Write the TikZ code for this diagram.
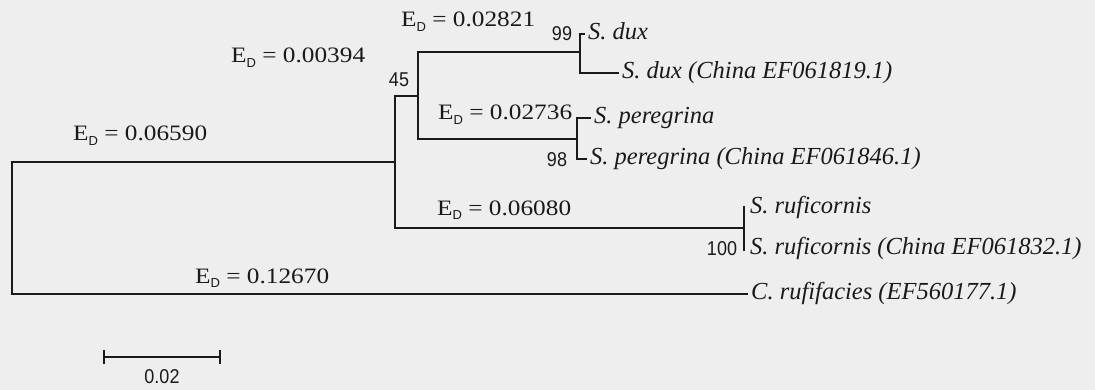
\documentclass[tikz,border=0pt]{standalone}
\usepackage{fontspec}
\setmainfont{Liberation Serif}
\newfontfamily\sansf{Liberation Sans}
\newfontfamily\edf[FakeStretch=1.15]{Liberation Serif}
\newfontfamily\bootf[FakeStretch=0.9]{Liberation Sans}
\definecolor{bg}{HTML}{EEEEEE}
\definecolor{ink}{HTML}{1A1A1A}
\newcommand\EDlab[1]{E\raisebox{-5pt}{\sansf\fontsize{13}{13}\selectfont D} = #1}
\tikzset{
  branch/.style={draw=ink, line width=2.3pt, line cap=rect},
  edlabel/.style={anchor=base west, inner sep=0pt, text=ink, font=\edf\fontsize{22}{22}\selectfont},
  taxon/.style={anchor=west, inner xsep=4pt, inner ysep=0pt, text=ink, font=\fontsize{24.5}{24.5}\selectfont\itshape, text height=16pt, text depth=5pt},
  boot/.style={inner sep=0pt, text=ink, font=\bootf\fontsize{20}{20}\selectfont},
}
\begin{document}
\begin{tikzpicture}[x=1pt, y=-1pt]
\fill[bg] (0,0) rectangle (1095,390);
\useasboundingbox (0,0) rectangle (1095,390);
% internal node coordinates
\coordinate (Rt) at (12,162);
\coordinate (Rb) at (12,294);
\coordinate (At) at (395,96);
\coordinate (Am) at (395,162);
\coordinate (Ab) at (395,228);
\coordinate (Bt) at (418,52);
\coordinate (Bm) at (418,96);
\coordinate (Bb) at (418,139);
\coordinate (Dt) at (580,34);
\coordinate (Dm) at (580,52);
\coordinate (Db) at (580,73);
\coordinate (Pt) at (577,118);
\coordinate (Pm) at (577,139);
\coordinate (Pb) at (577,159);
\coordinate (Ut) at (744,207);
\coordinate (Um) at (744,228);
\coordinate (Ub) at (744,250);
% tip labels
\node[taxon] (t1) at (584,34) {S. dux};
\node[taxon] (t2) at (618,73) {S. dux (China EF061819.1)};
\node[taxon] (t3) at (590,118) {S. peregrina};
\node[taxon] (t4) at (586,159) {S. peregrina (China EF061846.1)};
\node[taxon] (t5) at (746,208) {S. ruficornis};
\node[taxon] (t6) at (746,249) {S. ruficornis (China EF061832.1)};
\node[taxon] (t7) at (747,294) {C. rufifacies (EF560177.1)};
% branches
\draw[branch] (Rt) -- (Rb);
\draw[branch] (Rt) -- (Am);
\draw[branch] (Rb) -- (t7.west);
\draw[branch] (At) -- (Ab);
\draw[branch] (At) -- (Bm);
\draw[branch] (Ab) -- (Um);
\draw[branch] (Bt) -- (Bb);
\draw[branch] (Bt) -- (Dm);
\draw[branch] (Bb) -- (Pm);
\draw[branch] (Dt) -- (Db);
\draw[branch] (Dt) -- (t1.west);
\draw[branch] (Db) -- (t2.west);
\draw[branch] (Pt) -- (Pb);
\draw[branch] (Pt) -- (t3.west);
\draw[branch] (Pb) -- (t4.west);
\draw[branch] (Ut) -- (Ub);
% bootstrap values
\node[boot] (b45) at (399,80) {45};
\node[boot] (b99) at (562,34) {99};
\node[boot] (b98) at (557,160) {98};
\node[boot] (b100) at (722,249) {100};
% branch length labels
\node[edlabel] (e1) at (73,141) {\EDlab{0.06590}};
\node[edlabel] (e2) at (231,63) {\EDlab{0.00394}};
\node[edlabel] (e3) at (401,27) {\EDlab{0.02821}};
\node[edlabel] (e4) at (438,120) {\EDlab{0.02736}};
\node[edlabel] (e5) at (437,215) {\EDlab{0.06080}};
\node[edlabel] (e6) at (195,283) {\EDlab{0.12670}};
% scale bar
\coordinate (s1) at (104,357);
\coordinate (s2) at (220,357);
\draw[branch, line width=1.8pt] (s1) -- (s2);
\draw[branch, line width=1.8pt, line cap=butt] ([yshift=-7pt]s1) -- ([yshift=7pt]s1);
\draw[branch, line width=1.8pt, line cap=butt] ([yshift=-7pt]s2) -- ([yshift=7pt]s2);
\node[boot] (sl) at (162,377) {0.02};
\end{tikzpicture}
\end{document}
